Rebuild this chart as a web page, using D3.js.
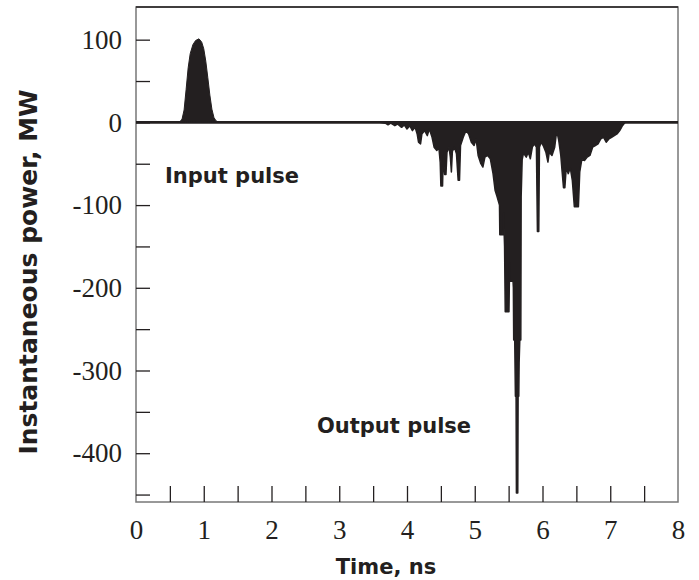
<!DOCTYPE html>
<html>
<head>
<meta charset="utf-8">
<script src="https://cdn.jsdelivr.net/npm/d3@7"></script>
<style>
  html, body { margin: 0; padding: 0; background: #fff; }
  svg { display: block; }
</style>
</head>
<body>
<svg id="chart" width="699" height="580"></svg>
<script>
// input pulse (ns, MW)
const inputTime  = [0.60, 0.65, 0.68, 0.71, 0.74, 0.77, 0.80, 0.84, 0.88, 0.93, 0.97, 1.00, 1.03, 1.06, 1.09, 1.12, 1.15, 1.18, 1.22];
const inputPower = [0, 1, 4, 15, 40, 66, 83, 94, 99, 101, 97, 89, 74, 54, 33, 16, 6, 2, 0];

// output pulse envelope (ns, MW)
const outputTime = [
  3.60, 3.68, 3.72, 3.76, 3.82, 3.86, 3.92, 3.96, 4.00, 4.04, 4.08, 4.12, 4.15, 4.17, 4.20, 4.22,
  4.26, 4.30, 4.33, 4.37, 4.40, 4.44, 4.47, 4.49, 4.50, 4.525, 4.535, 4.555, 4.575, 4.59, 4.62, 4.64,
  4.655, 4.67, 4.70, 4.73, 4.755, 4.775, 4.79, 4.83, 4.87, 4.91, 4.95, 4.99, 5.02, 5.05, 5.09, 5.12,
  5.15, 5.19, 5.23, 5.27, 5.30, 5.33, 5.365, 5.37, 5.415, 5.425, 5.44, 5.45, 5.505, 5.515, 5.52, 5.565,
  5.57, 5.575, 5.59, 5.60, 5.61, 5.615, 5.635, 5.64, 5.65, 5.655, 5.665, 5.68, 5.685, 5.70, 5.72, 5.76,
  5.79, 5.82, 5.85, 5.88, 5.91, 5.925, 5.945, 5.955, 5.98, 6.01, 6.05, 6.08, 6.10, 6.14, 6.18, 6.21,
  6.24, 6.27, 6.29, 6.31, 6.33, 6.35, 6.38, 6.41, 6.44, 6.47, 6.53, 6.55, 6.58, 6.62, 6.66, 6.70,
  6.74, 6.78, 6.82, 6.86, 6.90, 6.94, 6.98, 7.02, 7.06, 7.10, 7.14, 7.18, 7.22
];
const outputPower = [
  0, -1, -3, -1, -4, -2, -6, -3, -8, -4, -10, -6, -14, -24, -26, -14,
  -10, -16, -8, -18, -30, -34, -30, -48, -77, -77, -40, -63, -63, -36, -30, -42,
  -60, -35, -30, -38, -70, -70, -28, -18, -10, -14, -24, -28, -20, -40, -50, -54,
  -42, -40, -44, -62, -82, -90, -100, -136, -136, -110, -150, -229, -229, -170, -192, -192,
  -200, -263, -263, -331, -331, -448, -448, -331, -331, -291, -263, -263, -90, -45, -37, -42,
  -36, -44, -30, -26, -30, -132, -132, -30, -24, -28, -36, -48, -36, -40, -30, -10,
  -22, -40, -60, -79, -79, -55, -62, -55, -70, -102, -102, -60, -45, -46, -42, -40,
  -30, -28, -26, -20, -18, -24, -20, -18, -16, -14, -10, -4, 0
];

const xLabels = [0, 1, 2, 3, 4, 5, 6, 7, 8];
const xMinor  = [0.5, 1, 1.5, 2, 2.5, 3, 3.5, 4, 4.5, 5, 5.5, 6, 6.5, 7, 7.5];
const yLabels = [100, 0, -100, -200, -300, -400];
const yMinor  = [100, 50, 0, -50, -100, -150, -200, -250, -300, -350, -400, -450];

const ink = "#231f20";
const plotLeft = 136, plotRight = 678, plotTop = 7, plotBottom = 502;

const x = d3.scaleLinear().domain([0, 8]).range([plotLeft, plotRight]);
const y = d3.scaleLinear().domain([-459, 139.5]).range([plotBottom, plotTop]);

const svg = d3.select("#chart");

// frame
svg.append("rect")
  .attr("x", plotLeft).attr("y", plotTop)
  .attr("width", plotRight - plotLeft).attr("height", plotBottom - plotTop)
  .attr("fill", "none").attr("stroke", "#777").attr("stroke-width", 1.5);
svg.append("line")
  .attr("x1", plotLeft).attr("x2", plotRight).attr("y1", plotTop).attr("y2", plotTop)
  .attr("stroke", ink).attr("stroke-width", 1.5);

// minor ticks, pointing inward
const xAxis = svg.append("g")
  .attr("transform", `translate(0,${plotBottom})`)
  .call(d3.axisBottom(x).tickValues(xMinor).tickSize(-16).tickFormat(""));
const yAxis = svg.append("g")
  .attr("transform", `translate(${plotLeft},0)`)
  .call(d3.axisLeft(y).tickValues(yMinor).tickSize(-14).tickFormat(""));
[xAxis, yAxis].forEach(g => {
  g.select(".domain").remove();
  g.selectAll("line").attr("stroke", ink).attr("stroke-width", 1.3);
});

// tick labels (plain hyphen for negatives, as in the original)
const xLab = svg.append("g")
  .attr("transform", `translate(0,${plotBottom})`)
  .call(d3.axisBottom(x).tickValues(xLabels).tickSize(0).tickPadding(18).tickFormat(d => String(d)));
const yLab = svg.append("g")
  .attr("transform", `translate(${plotLeft},0)`)
  .call(d3.axisLeft(y).tickValues(yLabels).tickSize(0).tickPadding(14).tickFormat(d => String(d)));
[xLab, yLab].forEach(g => {
  g.select(".domain").remove();
  g.selectAll("text")
    .attr("fill", ink)
    .style("font-family", "'Liberation Serif', 'DejaVu Serif', serif")
    .style("font-size", "27px");
});

// zero line
svg.append("path")
  .datum([0, 8])
  .attr("d", d3.line().x(d => x(d)).y(() => y(0)))
  .attr("stroke", ink).attr("stroke-width", 2.6).attr("fill", "none");

const area = d3.area()
  .x(d => x(d[0]))
  .y0(y(0))
  .y1(d => y(d[1]));

svg.append("path")
  .datum(d3.zip(inputTime, inputPower))
  .attr("d", area)
  .attr("fill", ink).attr("stroke", ink).attr("stroke-width", 1);

svg.append("path")
  .datum(d3.zip(outputTime, outputPower))
  .attr("d", area)
  .attr("fill", ink).attr("stroke", ink).attr("stroke-width", 1.5)
  .attr("stroke-linejoin", "round");

// bold labels
const bold = "'DejaVu Sans', Verdana, sans-serif";
svg.append("text")
  .attr("x", 165).attr("y", 183)
  .attr("font-family", bold).attr("font-weight", "bold").attr("font-size", 21)
  .attr("fill", ink).text("Input pulse");
svg.append("text")
  .attr("x", 317).attr("y", 433)
  .attr("font-family", bold).attr("font-weight", "bold").attr("font-size", 21)
  .attr("fill", ink).text("Output pulse");
svg.append("text")
  .attr("x", 386).attr("y", 574)
  .attr("text-anchor", "middle")
  .attr("font-family", bold).attr("font-weight", "bold").attr("font-size", 21)
  .attr("fill", ink).text("Time, ns");
svg.append("text")
  .attr("transform", "translate(37,272) rotate(-90)")
  .attr("text-anchor", "middle")
  .attr("font-family", bold).attr("font-weight", "bold").attr("font-size", 25)
  .attr("fill", ink).text("Instantaneous power, MW");
</script>
</body>
</html>
